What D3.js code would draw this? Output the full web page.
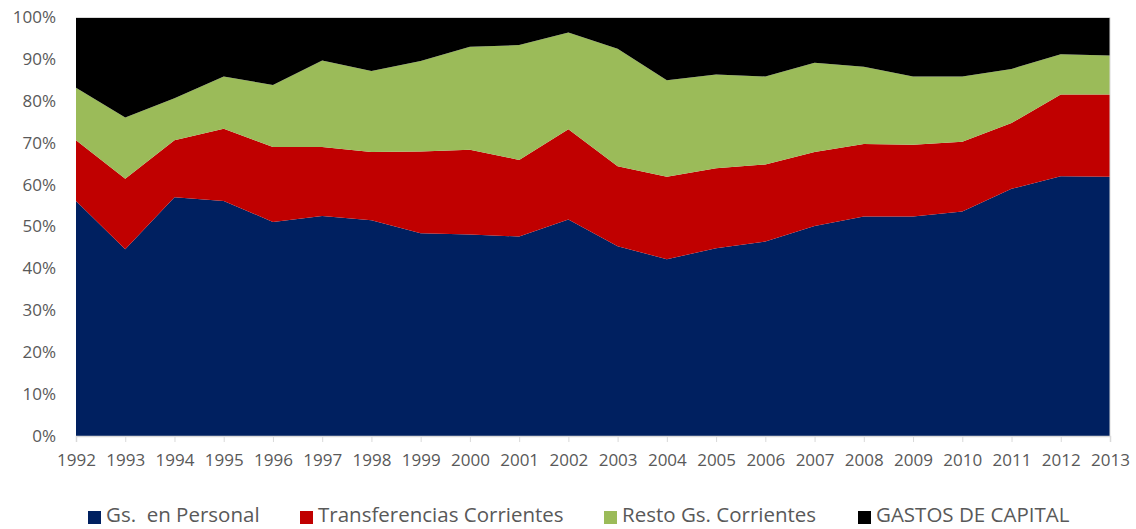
<!DOCTYPE html>
<html>
<head>
<meta charset="utf-8">
<script src="https://cdn.jsdelivr.net/npm/d3@7"></script>
<style>
  body { margin: 0; background: #fff; }
  text { font-family: 'Open Sans', sans-serif; }
</style>
</head>
<body>
<div id="chart"></div>
<script>
var years = [1992, 1993, 1994, 1995, 1996, 1997, 1998, 1999, 2000, 2001, 2002,
  2003, 2004, 2005, 2006, 2007, 2008, 2009, 2010, 2011, 2012, 2013]
var seriesNames = ['Gs.  en Personal', 'Transferencias Corrientes', 'Resto Gs. Corrientes', 'GASTOS DE CAPITAL']
var personal = [56.1, 44.6, 57.0, 56.1, 51.1, 52.5, 51.5, 48.4, 48.1, 47.6, 51.7,
  45.3, 42.2, 44.8, 46.4, 50.1, 52.4, 52.4, 53.6, 59.0, 62.0, 61.9]
var transferencias = [14.5, 16.8, 13.6, 17.2, 17.9, 16.5, 16.3, 19.5, 20.2, 18.3, 21.5,
  19.1, 19.7, 19.1, 18.4, 17.7, 17.3, 17.1, 16.6, 15.7, 19.5, 19.6]
var resto = [12.5, 14.6, 10.0, 12.5, 14.8, 20.6, 19.3, 21.6, 24.6, 27.4, 23.1,
  28.0, 23.0, 22.4, 21.0, 21.3, 18.4, 16.3, 15.6, 12.9, 9.6, 9.3]
var capital = [16.9, 24.0, 19.4, 14.2, 16.2, 10.4, 12.9, 10.5, 7.1, 6.7, 3.7,
  7.6, 15.1, 13.7, 14.2, 10.9, 11.9, 14.2, 14.2, 12.4, 8.9, 9.2]
var colors = ['#002060', '#C00000', '#9BBB59', '#000000']

var margin = { top: 17, left: 76, right: 26, bottom: 93 }
var width = 1136 - margin.left - margin.right
var height = 529 - margin.top - margin.bottom

var svg = d3
  .select('#chart')
  .append('svg')
  .attr('width', 1136)
  .attr('height', 529)

var g = svg.append('g')
  .attr('transform', 'translate(' + margin.left + ',' + margin.top + ')')

var rows = years.map(function(y, i) {
  return { year: y, s0: personal[i], s1: transferencias[i], s2: resto[i], s3: capital[i] }
})

var stack = d3.stack()
  .keys(['s0', 's1', 's2', 's3'])
  .offset(d3.stackOffsetExpand)
var layers = stack(rows)

var x = d3.scalePoint().domain(years).range([0, width])
var y = d3.scaleLinear().domain([0, 1]).range([height, 0])

var area = d3.area()
  .x(function(d) { return x(d.data.year) })
  .y0(function(d) { return y(d[0]) })
  .y1(function(d) { return y(d[1]) })

g.selectAll('.layer')
  .data(layers)
  .enter()
  .append('path')
  .attr('class', 'layer')
  .attr('d', area)
  .attr('fill', function(d, i) { return colors[i] })

// plot border (top and right, light gray)
g.append('path')
  .attr('d', 'M0,0.5H' + width + 'V' + height)
  .attr('fill', 'none')
  .attr('stroke', '#d9d9d9')
  .attr('stroke-width', 1)

// x axis
var xAxis = g.append('g')
  .attr('transform', 'translate(0,' + height + ')')
  .call(d3.axisBottom(x).tickSize(6).tickPadding(12))
xAxis.select('.domain').attr('stroke', '#d9d9d9').attr('stroke-width', 1.5)
xAxis.selectAll('.tick line').attr('stroke', '#d9d9d9')
xAxis.selectAll('text')
  .attr('fill', '#595959')
  .style('font-size', '17px')

// y axis
var yAxis = g.append('g')
  .call(d3.axisLeft(y).tickValues(d3.range(0, 1.01, 0.1)).tickFormat(d3.format('.0%')).tickSize(0).tickPadding(20))
yAxis.select('.domain').remove()
yAxis.selectAll('text')
  .attr('fill', '#595959')
  .style('font-size', '17px')

// legend
var legendX = [106, 318, 622, 876]
var legend = svg.append('g').attr('transform', 'translate(0,522)')
seriesNames.forEach(function(name, i) {
  var item = legend.append('g').attr('transform', 'translate(' + legendX[i] + ',0)')
  item.append('rect')
    .attr('x', -18)
    .attr('y', -11)
    .attr('width', 13)
    .attr('height', 13)
    .attr('fill', colors[i])
  item.append('text')
    .attr('x', 0)
    .attr('y', 0)
    .attr('fill', '#595959')
    .style('font-size', '20.5px')
    .style('white-space', 'pre')
    .text(name)
})
</script>
</body>
</html>
